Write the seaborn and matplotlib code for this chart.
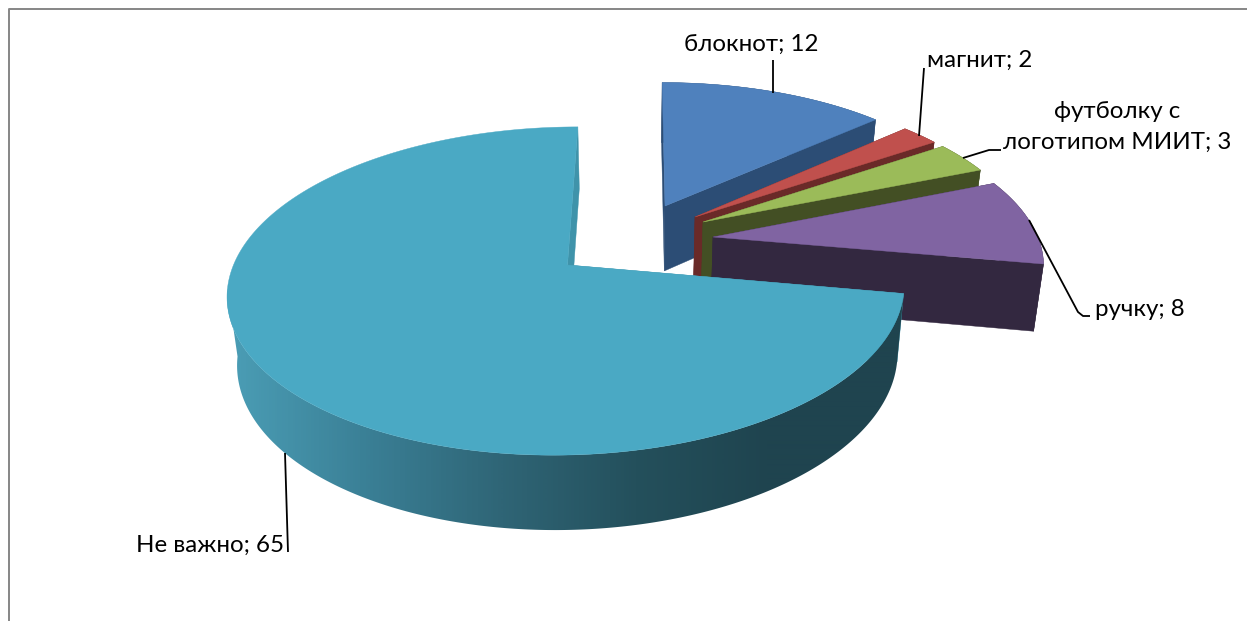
import numpy as np
import pandas as pd
import seaborn as sns
import matplotlib
matplotlib.use("Agg")
import matplotlib.pyplot as plt
from matplotlib.patches import Polygon

# --- data ---
categories = ["блокнот", "магнит", "футболку с\nлоготипом МИИТ", "ручку", "Не важно"]
values = [12, 2, 3, 8, 65]
top_colors = ["#4f81bd", "#c0504d", "#9bbb59", "#8064a2", "#4aa9c4"]
wall_colors = ["#2c4d75", "#6a2a28", "#434f24", "#332840", "#3f93aa"]
df = pd.DataFrame({"category": categories, "value": values})

# --- style ---
sns.set_theme(style="white")
plt.rcParams["font.family"] = ["Lato", "Open Sans", "DejaVu Sans"]
fig, ax = plt.subplots(figsize=(12.47, 6.21), dpi=100)
fig.subplots_adjust(0, 0, 1, 1)

# --- projection of the pie plane to the canvas ---
CX, CY, RX, RY, K, SHEAR = 567.5, 265.0, 334.0, 160.0, 0.1586, 0.075
LOW_AX, LOW_BX, LOW_AY, LOW_BY = 0.9755, 15.6, 1.04, 56.7


def project(X, Y):
    w = 1 + K * Y
    y = CY - RY * Y / w
    x = CX + RX * X / w + SHEAR * (CY - y)
    return x, y


def unproject(x, y):
    v = (CY - y) / RY
    Y = v / (1 - K * v)
    u = (x - SHEAR * (CY - y) - CX) / RX
    return u * (1 + K * Y), Y


def lower(x, y):
    return LOW_AX * x + LOW_BX, LOW_AY * y + LOW_BY


# canvas position of each slice's tip (explosion)
tips = [(665, 206), (695, 217), (703, 222), (713, 237), (CX, CY)]

gradient = np.array(sns.blend_palette(["#4a9cb4", "#3a7f95", "#2f6576", "#24505c", "#1f444f", "#1f444f"], 256))
XMIN, XMAX = 235, 900
STRIP_X = np.linspace(200, 950, 750)
strip_idx = (np.clip((STRIP_X - XMIN) / (XMAX - XMIN), 0, 1) * 255).astype(int)
HIDDEN_FROM = np.radians(262)  # the outer wall is behind the top surface beyond this angle

fractions = df["value"].to_numpy() / df["value"].sum()
edges = np.concatenate([[0], np.cumsum(fractions)]) * 2 * np.pi

for i, (top, wall) in enumerate(zip(top_colors, wall_colors)):
    a0, a1 = edges[i], edges[i + 1]
    ox, oy = unproject(*tips[i])
    th = np.linspace(a0, a1, max(6, int(np.degrees(a1 - a0)) * 2))
    rx, ry = project(ox + np.sin(th), oy + np.cos(th))
    tx, ty = project(ox, oy)
    lx, ly = lower(rx, ry)
    ltx, lty = lower(tx, ty)
    # cut faces
    ax.fill([tx, rx[0], lx[0], ltx], [ty, ry[0], ly[0], lty], color=wall, lw=0.3, zorder=i * 3 + 1)
    ax.fill([tx, rx[-1], lx[-1], ltx], [ty, ry[-1], ly[-1], lty], color=wall, lw=0.3, zorder=i * 3 + 1)
    # outer wall
    if i == 4:
        keep = th <= HIDDEN_FROM
        outline = np.c_[np.r_[rx[keep], lx[keep][::-1]], np.r_[ry[keep], ly[keep][::-1]]]
        patch = Polygon(outline, closed=True, facecolor="none", edgecolor="none", transform=ax.transData)
        ax.add_patch(patch)
        im = ax.imshow(gradient[strip_idx][np.newaxis, :, :], extent=(STRIP_X[0], STRIP_X[-1], 560, 250),
                       aspect="auto", zorder=i * 3 + 2, interpolation="bilinear")
        im.set_clip_path(patch)
    else:
        ax.fill(np.r_[rx, lx[::-1]], np.r_[ry, ly[::-1]], color=wall, lw=0.3, zorder=i * 3 + 2)
    # top surface
    ax.fill(np.r_[tx, rx], np.r_[ty, ry], color=top, lw=0.3, zorder=i * 3 + 3)

# --- leader lines ---
leaders = [
    ([773, 773], [60, 93]),
    ([924, 919], [68, 136]),
    ([963, 989, 1001], [158, 150, 150]),
    ([1029, 1078, 1083, 1090], [220, 312, 316, 316]),
    ([285, 288], [453, 552]),
]
for xs, ys in leaders:
    ax.plot(xs, ys, color="black", lw=1.3, zorder=30, solid_capstyle="butt")

# --- labels ---
label_pos = [(751, 44), (980, 60), (1117, 127), (1140, 309), (210, 545)]
for (x, y), cat, val in zip(label_pos, df["category"], df["value"]):
    ax.text(x, y, f"{cat}; {val}", ha="center", va="center", fontsize=17.4, color="black",
            zorder=31, linespacing=1.58, multialignment="center")

# --- chart frame: only the left and top edges fall inside the picture ---
ax.plot([8.5, 8.5, 1247], [621, 8.5, 8.5], color="#868686", lw=1.4, zorder=40)

ax.set_xlim(0, 1247)
ax.set_ylim(621, 0)
ax.axis("off")

fig.savefig("out.png", dpi=100)
